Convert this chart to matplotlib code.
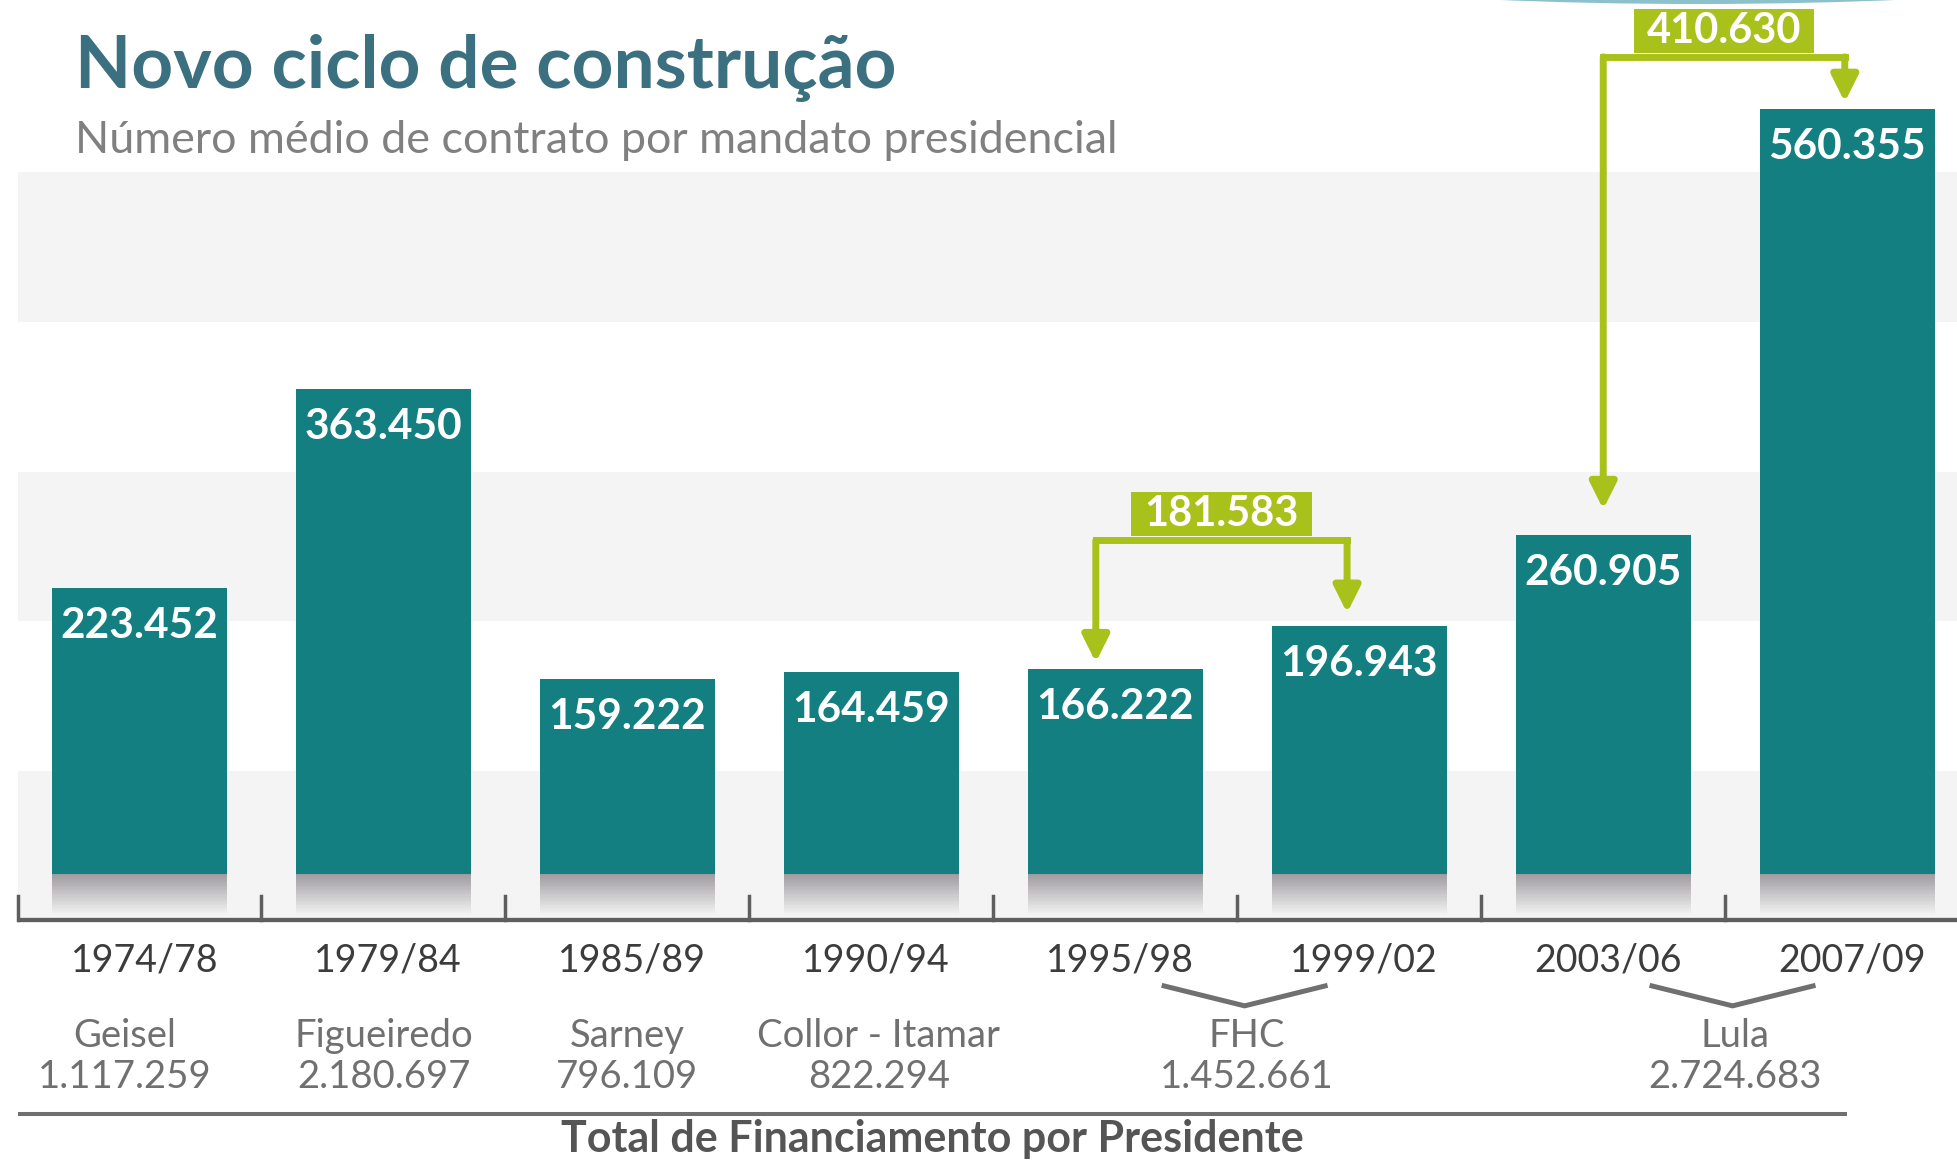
import numpy as np
import matplotlib.pyplot as plt
from matplotlib.patches import Rectangle, Ellipse
from matplotlib.transforms import blended_transform_factory

# Dados (número médio de contratos, em milhares)
periodos = ['1974/78', '1979/84', '1985/89', '1990/94', '1995/98', '1999/02', '2003/06', '2007/09']
media_contratos = [223.452, 363.450, 159.222, 164.459, 166.222, 196.943, 260.905, 560.355]
rotulos_barras = ['223.452', '363.450', '159.222', '164.459', '166.222', '196.943', '260.905', '560.355']

presidentes = ['Geisel', 'Figueiredo', 'Sarney', 'Collor - Itamar', 'FHC', 'Lula']
total_financiamento = ['1.117.259', '2.180.697', '796.109', '822.294', '1.452.661', '2.724.683']
mandatos = [(0, 0), (1, 1), (2, 2), (3, 3), (4, 5), (6, 7)]

variacoes = ['181.583', '410.630']
pares_variacao = [(4, 5), (6, 7)]

plt.rcParams['font.family'] = ['Lato', 'DejaVu Sans']

TEAL = '#137f80'
VERDE = '#a9c11b'
FAIXA = '#f4f4f4'

W, H = 1957, 1163
fig = plt.figure(figsize=(W / 100, H / 100), dpi=100)
fig.patch.set_facecolor('white')

# area das barras (base das barras em y=873.6 px)
ax = fig.add_axes([17.5 / W, 1 - 873.6 / H, 1 - 17.5 / W, 873.6 / H])
ax.set_xlim(-0.5, 7.45)
ax.set_ylim(22.6, 637.2)
ax.axis('off')
trans = blended_transform_factory(ax.transData, ax.transAxes)

# faixas de fundo
for y0, y1 in [(410.6, 516.0), (200.0, 305.3), (0, 94.6)]:
    ax.axhspan(y0, y1, color=FAIXA, zorder=0, lw=0)
ax.add_patch(Rectangle((0, -0.053), 1, 0.053, transform=ax.transAxes,
                       color=FAIXA, lw=0, clip_on=False, zorder=0))

x = np.arange(len(periodos))
larg = 0.716
ax.bar(x, media_contratos, width=larg, color=TEAL, zorder=3)

# sombra sob as barras
n = 30
for i in x:
    for k in range(n):
        t = k / (n - 1)
        c = (1 - t) * np.array([0.62, 0.61, 0.62]) + t * np.array([0.95, 0.95, 0.95])
        ax.add_patch(Rectangle((i - larg / 2, -0.047 * (k + 1) / n), larg, 0.047 / n,
                               transform=trans, color=c, lw=0, clip_on=False, zorder=1))

# rótulos das barras
for i, (v, r) in enumerate(zip(media_contratos, rotulos_barras)):
    ax.annotate(r, (i, v), xytext=(0, -36), textcoords='offset points',
                ha='center', va='baseline', color='white', fontsize=30.5,
                fontweight='bold', zorder=5)

# eixo
ax.plot([0, 1], [-0.053, -0.053], transform=ax.transAxes,
        color='#5e5e5e', lw=3.1, clip_on=False, solid_capstyle='butt')
for k in range(8):
    ax.plot([k - 0.5, k - 0.5], [-0.053, -0.026], transform=trans, color='#5e5e5e',
            lw=2.5, clip_on=False)

# períodos
for i, p in enumerate(periodos):
    ax.text(i + 0.02, -0.1126, p, transform=trans, ha='center', va='baseline',
            fontsize=27, color='#3c3c3c')

# presidentes e totais
ajuste = [-0.06, 0.0, 0.0, 0.03, 0.04, 0.04]
for nome, tot, (a, b), dx in zip(presidentes, total_financiamento, mandatos, ajuste):
    c = (a + b) / 2
    ax.text(c + dx, -0.1985, nome, transform=trans, ha='center', va='baseline',
            fontsize=27.5, color='#707070')
    ax.text(c + dx, -0.2454, tot, transform=trans, ha='center', va='baseline',
            fontsize=27.5, color='#707070')
    if b > a:
        cc = c + 0.03
        ax.plot([cc - 0.33, cc, cc + 0.33], [-0.1286, -0.1514, -0.1286], transform=trans,
                color='#707070', lw=3.6, clip_on=False, solid_joinstyle='miter')

ax.plot([-0.5, 7.0], [-0.275, -0.275], transform=trans, color='#6f6f6f', lw=2.9,
        clip_on=False, solid_capstyle='butt')
ax.text(3.25, -0.3185, 'Total de Financiamento por Presidente', transform=trans,
        ha='center', va='baseline', fontsize=31, fontweight='bold', color='#555555')

# setas de variação
niveis = [257.0, 597.2]
desl_x = [(-0.08, -0.05), (0.0, -0.01)]
folgas = [(5, 9), (18, 5)]
for lab, (a, b), nivel, (dxa, dxb), (fa, fb) in zip(variacoes, pares_variacao, niveis, desl_x, folgas):
    xa, xb = a + dxa, b + dxb
    ax.plot([xa, xb], [nivel, nivel], color=VERDE, lw=5, solid_capstyle='projecting',
            clip_on=False, zorder=4)
    for xx, alvo, f in [(xa, media_contratos[a], fa), (xb, media_contratos[b], fb)]:
        ax.annotate('', xy=(xx, alvo + f), xytext=(xx, nivel),
                    arrowprops=dict(arrowstyle='-|>,head_length=0.4,head_width=0.2',
                                    color=VERDE, lw=5, mutation_scale=40,
                                    shrinkA=0, shrinkB=0), zorder=4)
    cx = (xa + xb) / 2
    ax.add_patch(Rectangle((cx - 0.37, nivel + 3), 0.74, 31, color=VERDE, lw=0,
                           clip_on=False, zorder=4))
    ax.text(cx, nivel + 18.5, lab, ha='center', va='center', color='white', fontsize=30,
            fontweight='bold', zorder=5, clip_on=False)

# detalhe decorativo no canto superior direito
fig.add_artist(Ellipse((1698 / W, 1 + 56 / H), 1100 / W, 120 / H,
                       transform=fig.transFigure, color='#8cc0cc', lw=0))

# títulos
fig.text(75 / W, 1 - 88 / H, 'Novo ciclo de construção', fontsize=52.5, fontweight='bold',
         color='#3b7080', va='baseline', ha='left')
fig.text(75 / W, 1 - 153 / H, 'Número médio de contrato por mandato presidencial',
         fontsize=32.3, color='#808080', va='baseline', ha='left')

fig.savefig('out.png', dpi=100)
